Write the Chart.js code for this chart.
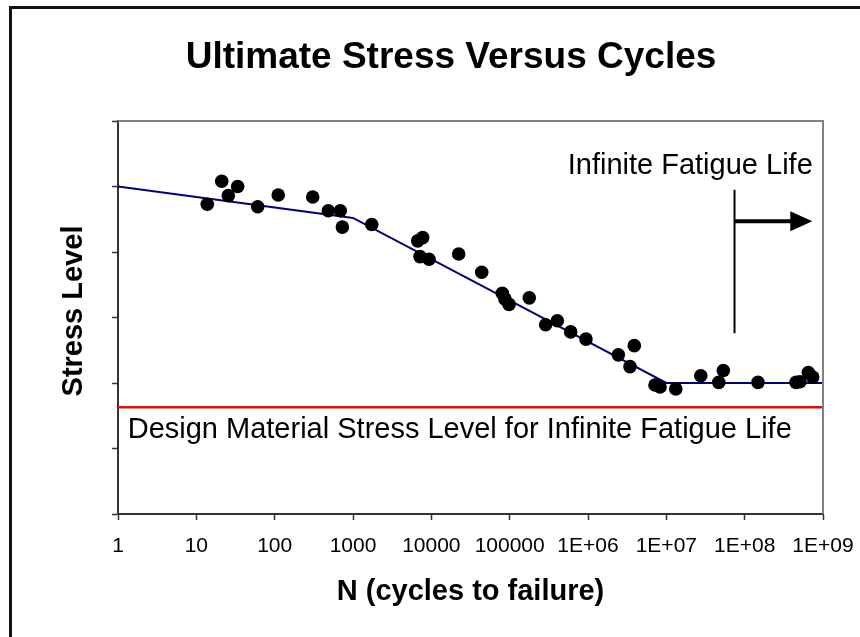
<!DOCTYPE html>
<html><head><meta charset="utf-8">
<script src="https://cdn.jsdelivr.net/npm/chart.js@4/dist/chart.umd.min.js"></script>
<style>
html,body{margin:0;padding:0;background:#fff;overflow:hidden;width:860px;height:637px;}
#frame{position:absolute;left:9px;top:6px;width:900px;height:700px;border:3px solid #111;box-sizing:border-box;}
#c{position:absolute;left:0;top:0;}
</style></head><body>
<div id="frame"></div>
<canvas id="c" width="860" height="637"></canvas>
<script>
// ---- data ----
const cyclesN = [13.8, 21.1, 25.6, 33.7, 60.7, 111, 306, 484, 689, 731, 1734, 6700, 7760, 7170, 9340, 22340, 44000, 80500, 87300, 98200, 178000, 288000, 406000, 601000, 942000, 2.44e6, 3.90e6, 3.44e6, 7.17e6, 8.30e6, 1.32e7, 2.75e7, 5.34e7, 4.67e7, 1.48e8, 4.53e8, 5.09e8, 6.50e8, 7.39e8];
const stressLevel = [4.73, 5.08, 4.86, 5.00, 4.69, 4.87, 4.84, 4.63, 4.63, 4.38, 4.42, 4.17, 4.22, 3.93, 3.89, 3.97, 3.69, 3.37, 3.28, 3.20, 3.30, 2.89, 2.95, 2.78, 2.67, 2.43, 2.57, 2.25, 1.97, 1.94, 1.91, 2.11, 2.19, 2.01, 2.01, 2.01, 2.02, 2.16, 2.09];
const curveN = [1, 1000, 1e7, 1e9];
const curveStress = [5.0, 4.52, 2.0, 2.0];
const designN = [1, 1e9];
const designStress = [1.63, 1.63];
const limitN = [7.42e7, 7.42e7];
const limitStress = [2.76, 4.95];
const arrowN = [7.42e7, 7.3e8];
const arrowStress = [4.47, 4.47];
const xTickValues = [1, 10, 100, 1000, 1e4, 1e5, 1e6, 1e7, 1e8, 1e9];
const xTickLabels = ["1", "10", "100", "1000", "10000", "100000", "1E+06", "1E+07", "1E+08", "1E+09"];
const yTickValues = [0, 1, 2, 3, 4, 5, 6];
const chartTitle = "Ultimate Stress Versus Cycles";
const xTitle = "N (cycles to failure)";
const yTitle = "Stress Level";
const infiniteLabel = "Infinite Fatigue Life";
const infiniteLabelPos = [7.4e8, 5.19];
const designLabel = "Design Material Stress Level for Infinite Fatigue Life";
const designLabelPos = [1.33, 1.165];

const FONT = '"Liberation Sans", Arial, Helvetica, sans-serif';
const pts = (xs, ys) => xs.map((x, i) => ({x: x, y: ys[i]}));

const decorPlugin = {
  id: 'decor',
  afterDatasetsDraw(chart) {
    const ctx = chart.ctx, xs = chart.scales.x, ys = chart.scales.y, ca = chart.chartArea;
    // arrow
    const x0 = xs.getPixelForValue(arrowN[0]);
    const tip = xs.getPixelForValue(arrowN[1]);
    const y = ys.getPixelForValue(arrowStress[0]);
    const headLen = 22, headHalf = 10;
    ctx.save();
    ctx.strokeStyle = '#000'; ctx.fillStyle = '#000';
    ctx.lineWidth = 4;
    ctx.beginPath(); ctx.moveTo(x0, y); ctx.lineTo(tip - headLen + 2, y); ctx.stroke();
    ctx.beginPath(); ctx.moveTo(tip, y); ctx.lineTo(tip - headLen, y - headHalf); ctx.lineTo(tip - headLen, y + headHalf); ctx.closePath(); ctx.fill();
    // plot frame top/right
    ctx.strokeStyle = '#808080'; ctx.lineWidth = 2;
    ctx.beginPath(); ctx.moveTo(ca.left, ca.top); ctx.lineTo(ca.right, ca.top); ctx.lineTo(ca.right, ca.bottom); ctx.stroke();
    ctx.restore();
  },
  afterDraw(chart) {
    const ctx = chart.ctx, xs = chart.scales.x, ys = chart.scales.y, ca = chart.chartArea;
    ctx.save();
    ctx.fillStyle = '#000';
    ctx.textBaseline = 'alphabetic';
    // chart title
    ctx.font = 'bold 37px ' + FONT;
    ctx.textAlign = 'center';
    ctx.fillText(chartTitle, 451, 68);
    // x title
    ctx.font = 'bold 29px ' + FONT;
    ctx.fillText(xTitle, (ca.left + ca.right) / 2, 600);
    // y title
    ctx.save();
    ctx.translate(82, 311);
    ctx.rotate(-Math.PI / 2);
    ctx.fillText(yTitle, 0, 0);
    ctx.restore();
    // annotations
    ctx.font = '29px ' + FONT;
    ctx.textAlign = 'right';
    ctx.fillText(infiniteLabel, xs.getPixelForValue(infiniteLabelPos[0]), ys.getPixelForValue(infiniteLabelPos[1]));
    ctx.textAlign = 'left';
    ctx.fillText(designLabel, xs.getPixelForValue(designLabelPos[0]), ys.getPixelForValue(designLabelPos[1]));
    ctx.restore();
  }
};

new Chart(document.getElementById('c'), {
  type: 'scatter',
  data: {
    datasets: [
      { label: 'Data', data: pts(cyclesN, stressLevel), backgroundColor: '#000', borderColor: '#000', pointRadius: 6.8, borderWidth: 0, showLine: false },
      { label: 'Curve', data: pts(curveN, curveStress), borderColor: '#000080', borderWidth: 2, pointRadius: 0, showLine: true },
      { label: 'Design', data: pts(designN, designStress), borderColor: '#ff0000', borderWidth: 2.5, pointRadius: 0, showLine: true },
      { label: 'Limit', data: pts(limitN, limitStress), borderColor: '#000', borderWidth: 2, pointRadius: 0, showLine: true }
    ]
  },
  options: {
    responsive: false,
    animation: false,
    devicePixelRatio: 1,
    layout: { padding: { left: 108, right: 37, top: 121, bottom: 83 } },
    plugins: { legend: { display: false }, tooltip: { enabled: false }, title: { display: false } },
    scales: {
      x: {
        type: 'logarithmic', min: 1, max: 1e9,
        afterBuildTicks: s => { s.ticks = xTickValues.map(v => ({ value: v })); },
        afterFit: s => { s.height = 40; s.paddingLeft = 0; s.paddingRight = 0; },
        ticks: { autoSkip: false, maxRotation: 0, minRotation: 0, padding: 14, color: '#000', font: { family: FONT, size: 21 },
          callback: (v, i) => xTickLabels[i] },
        grid: { display: true, drawOnChartArea: false, drawTicks: true, tickLength: 6, tickColor: '#333', tickWidth: 1.5 },
        border: { display: true, color: '#333', width: 2 }
      },
      y: {
        type: 'linear', min: 0, max: 6,
        afterBuildTicks: s => { s.ticks = yTickValues.map(v => ({ value: v })); },
        afterFit: s => { s.width = 10; s.paddingTop = 0; s.paddingBottom = 0; },
        ticks: { callback: () => '', padding: 0 },
        grid: { display: true, drawOnChartArea: false, drawTicks: true, tickLength: 6, tickColor: '#333', tickWidth: 1.5 },
        border: { display: true, color: '#333', width: 2 }
      }
    }
  },
  plugins: [decorPlugin]
});
</script></body></html>
